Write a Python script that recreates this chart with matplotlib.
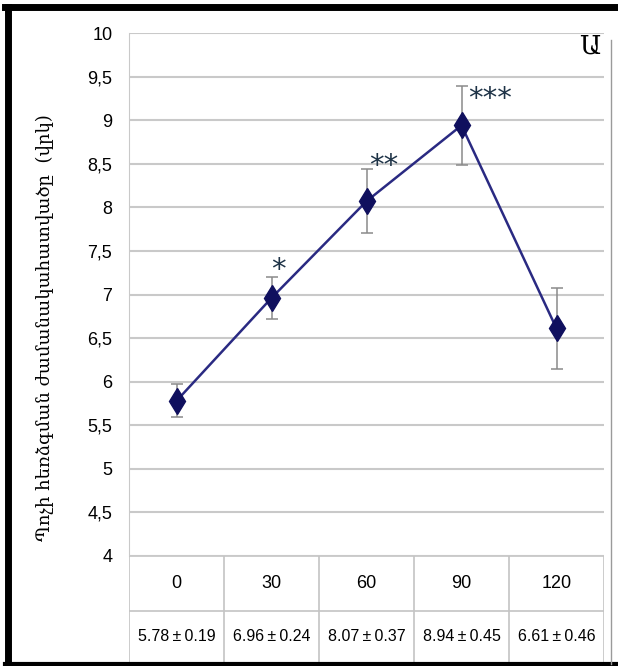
import matplotlib.pyplot as plt
from matplotlib.lines import Line2D

# time points (min) and tail-flick latency, mean +- SEM
times = ['0', '30', '60', '90', '120']
means = [5.78, 6.96, 8.07, 8.94, 6.61]
sems = [0.19, 0.24, 0.37, 0.45, 0.46]
stars = ['', '*', '**', '***', '']
yticks = [4, 4.5, 5, 5.5, 6, 6.5, 7, 7.5, 8, 8.5, 9, 9.5, 10]
ylabel = 'Պոչի հեռձգման ժամանակահատվածը  (վրկ)'
panel = 'Ա'

W, H = 618, 666
sans = ['Liberation Sans', 'DejaVu Sans']
serif = ['DejaVu Serif', 'DejaVu Sans']

fig = plt.figure(figsize=(W / 100, H / 100), dpi=100)

def px(x0, y0, x1, y1):
    # pixel box (top-left origin) -> figure fraction rect
    return [x0 / W, 1 - y1 / H, (x1 - x0) / W, (y1 - y0) / H]

ax = fig.add_axes(px(129, 33, 604, 556))
xs = [i + 0.5 for i in range(len(times))]
ax.errorbar(xs, means, yerr=sems, fmt='none', ecolor='#8a8a8a',
            elinewidth=1.1, capsize=4, capthick=1.1, zorder=3)
ax.plot(xs, means, color='#2a2a82', lw=1.8, marker='d', markersize=13,
        markerfacecolor='#10105e', markeredgecolor='#10105e', zorder=4)

# significance marks next to the upper error caps (offsets in points)
star_off = [(0, 0), (0, 5), (2, 2), (5, -9), (0, 0)]
for x, m, s, st, off in zip(xs, means, sems, stars, star_off):
    if st:
        ax.annotate(st, (x, m + s), xytext=off, textcoords='offset points',
                    fontsize=21, color='#1e3347', ha='left', va='center',
                    family='DejaVu Sans')

ax.set_xlim(0, len(times))
ax.set_ylim(4, 10)
ax.set_yticks(yticks)
ax.set_yticklabels([('%g' % t).replace('.', ',') for t in yticks],
                   family=sans, fontsize=13)
ax.tick_params(axis='y', length=0, pad=12)
ax.set_xticks([])
ax.grid(axis='y', color='#c9c9c9', lw=1.5)
ax.set_axisbelow(True)
for side in ['top', 'right', 'bottom']:
    ax.spines[side].set_visible(False)
ax.spines['left'].set_color('#c9c9c9')

# data table under the plot
tb = fig.add_axes(px(129, 556, 604, 662))
tb.set_xlim(0, len(times))
tb.set_ylim(0, 2)
tb.axis('off')
lc = '#c4c4c4'
tb.axhline(2, color=lc, lw=1.2)
tb.axhline(0.97, color=lc, lw=1.2)
for i in range(len(times) + 1):
    tb.axvline(i, color=lc, lw=1.2)
for i, (t, m, s) in enumerate(zip(times, means, sems)):
    tb.text(i + 0.5, 1.48, t, ha='center', va='center', fontsize=13,
            family=sans)
    tb.text(i + 0.5, 0.48, '%.2f\u2009±\u2009%.2f' % (m, s), ha='center',
            va='center', fontsize=11.5, family=sans)

fig.text(45 / W, 1 - 328 / H, ylabel, rotation=90, ha='center',
         va='center', fontsize=13, family=serif)
fig.text(590 / W, 1 - 46 / H, panel, ha='center', va='center',
         fontsize=19, family=serif)

# frame around the whole figure
fig.add_artist(Line2D([8 / W, 8 / W], [0, 1 - 7 / H], color='black',
                      lw=5, transform=fig.transFigure))
fig.add_artist(Line2D([5 / W, 615 / W], [1 - 7 / H, 1 - 7 / H],
                      color='black', lw=5, transform=fig.transFigure))
fig.add_artist(Line2D([5 / W, 1], [2 / H, 2 / H], color='black', lw=3,
                      transform=fig.transFigure))
fig.add_artist(Line2D([611 / W, 611 / W], [2 / H, 1 - 40 / H],
                      color='#9a9a9a', lw=1, transform=fig.transFigure))

fig.savefig('out.png', dpi=100)
